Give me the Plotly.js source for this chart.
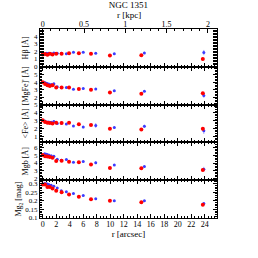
<!DOCTYPE html>
<html><head>
<meta charset="utf-8">
<script src="https://cdn.plot.ly/plotly-3.0.1.min.js"></script>
<style>html,body{margin:0;padding:0;background:#fff}</style>
</head><body>
<div id="chart" style="width:258px;height:258px"></div>
<script>
// radii in arcsec
const rRed  = [0, 0.35, 0.7, 1.05, 1.45, 2.0, 2.8, 3.9, 5.35, 7.15, 9.95, 14.6, 23.7];
const rBlue = [0.3, 0.6, 0.9, 1.25, 1.65, 2.15, 2.75, 3.5, 4.55, 6.0, 7.85, 10.6, 15.05, 23.85];
const KPC_PER_ARCSEC = 0.0818;

// H beta [A]
const hbRed     = [1.6, 1.65, 1.55, 1.7, 1.6, 1.7, 1.7, 1.75, 1.75, 1.7, 1.45, 1.5, 1.0];
const hbRedErr  = [0.05, 0.05, 0.05, 0.05, 0.05, 0.05, 0.05, 0.05, 0.06, 0.07, 0.08, 0.1, 0.15];
const hbBlue    = [1.65, 1.75, 1.75, 1.7, 1.8, 1.75, 1.75, 1.7, 1.9, 1.9, 1.75, 1.7, 1.8, 1.85];
const hbBlueErr = [0.1, 0.1, 0.1, 0.1, 0.1, 0.08, 0.08, 0.08, 0.08, 0.1, 0.1, 0.12, 0.15, 0.35];

// [MgFe]' [A]
const mgfeRed     = [4.0, 3.75, 3.6, 3.5, 3.6, 3.3, 3.3, 3.3, 3.1, 3.0, 2.6, 2.45, 2.5];
const mgfeRedErr  = [0.05, 0.05, 0.05, 0.05, 0.05, 0.05, 0.05, 0.05, 0.06, 0.07, 0.08, 0.1, 0.15];
const mgfeBlue    = [3.95, 3.85, 3.75, 3.7, 3.8, 3.4, 3.3, 3.3, 3.05, 3.15, 3.1, 2.85, 2.8, 2.2];
const mgfeBlueErr = [0.1, 0.1, 0.1, 0.1, 0.1, 0.08, 0.08, 0.08, 0.08, 0.1, 0.12, 0.12, 0.12, 0.3];

// <Fe> [A]
const feRed     = [3.05, 2.85, 2.75, 2.7, 2.65, 2.75, 2.7, 2.75, 2.55, 2.45, 2.0, 1.9, 2.0];
const feRedErr  = [0.05, 0.05, 0.05, 0.05, 0.05, 0.05, 0.05, 0.05, 0.06, 0.07, 0.08, 0.1, 0.2];
const feBlue    = [2.95, 2.85, 2.85, 2.8, 2.9, 2.65, 2.7, 2.6, 2.35, 2.2, 2.4, 2.15, 2.3, 1.75];
const feBlueErr = [0.12, 0.12, 0.12, 0.12, 0.12, 0.1, 0.1, 0.1, 0.1, 0.15, 0.3, 0.15, 0.2, 0.4];

// Mgb [A]
const mgbRed     = [5.05, 4.9, 4.85, 4.8, 4.7, 4.25, 4.3, 4.15, 4.1, 3.8, 3.35, 3.3, 3.1];
const mgbRedErr  = [0.05, 0.05, 0.05, 0.05, 0.05, 0.05, 0.05, 0.05, 0.06, 0.07, 0.08, 0.1, 0.15];
const mgbBlue    = [5.2, 5.15, 5.05, 4.95, 4.9, 4.5, 4.35, 4.45, 4.1, 4.2, 4.05, 3.75, 3.55, 3.2];
const mgbBlueErr = [0.1, 0.1, 0.1, 0.1, 0.1, 0.08, 0.08, 0.08, 0.08, 0.1, 0.2, 0.12, 0.12, 0.3];

// Mg2 [mag]
const mg2Red     = [0.295, 0.295, 0.28, 0.28, 0.272, 0.258, 0.25, 0.237, 0.223, 0.209, 0.2, 0.191, 0.177];
const mg2RedErr  = [0.002, 0.002, 0.002, 0.002, 0.002, 0.002, 0.002, 0.002, 0.002, 0.003, 0.003, 0.003, 0.004];
const mg2Blue    = [0.301, 0.3, 0.295, 0.291, 0.285, 0.275, 0.259, 0.253, 0.243, 0.231, 0.212, 0.201, 0.2, 0.184];
const mg2BlueErr = [0.003, 0.003, 0.003, 0.003, 0.003, 0.003, 0.003, 0.003, 0.003, 0.003, 0.004, 0.004, 0.004, 0.008];

const yTitles = ['Hβ [Å]', "[MgFe]' [Å]", '<Fe> [Å]', 'Mgb [Å]', 'Mg<sub>2</sub> [mag]'];
const xTicksArcsec = [0, 2, 4, 6, 8, 10, 12, 14, 16, 18, 20, 22, 24];
const xTicksKpc = [0, 0.5, 1, 1.5, 2];
const kpcTickText = ['0', '0.5', '1', '1.5', '2'];

const panels = [
  {red: hbRed, redErr: hbRedErr, blue: hbBlue, blueErr: hbBlueErr, range: [-0.05, 5.0], tickvals: [0,1,2,3,4], minor: 0.2},
  {red: mgfeRed, redErr: mgfeRedErr, blue: mgfeBlue, blueErr: mgfeBlueErr, range: [1.0, 6.05], tickvals: [2,3,4,5], minor: 0.2},
  {red: feRed, redErr: feRedErr, blue: feBlue, blueErr: feBlueErr, range: [0.3, 5.0], tickvals: [1,2,3,4,5], minor: 0.2},
  {red: mgbRed, redErr: mgbRedErr, blue: mgbBlue, blueErr: mgbBlueErr, range: [1.75, 6.7], tickvals: [2,3,4,5,6], minor: 0.2},
  {red: mg2Red, redErr: mg2RedErr, blue: mg2Blue, blueErr: mg2BlueErr, range: [0.1, 0.32], tickvals: [0.1,0.15,0.2,0.25,0.3], minor: 0.01}
];

const FONT = 'Liberation Serif, DejaVu Serif, serif';
const RED = '#ff0000', BLUE = '#3c3cff', BLUE_ERR = '#9c9cff';
const xRange = [-0.4, 25.8];

const traces = [];
const layout = {
  width: 258, height: 258,
  margin: {l: 40, r: 41, t: 29, b: 40, pad: 0},
  paper_bgcolor: '#fff', plot_bgcolor: '#fff',
  showlegend: false,
  font: {family: FONT, size: 8, color: '#000'},
  title: {text: 'NGC 1351', font: {family: FONT, size: 9, color: '#000'}, x: 0.5, xref: 'paper', xanchor: 'center', y: 0.98, yref: 'container', yanchor: 'middle', pad: {t: 0, b: 0}},
  annotations: [
    {text: 'r [kpc]', xref: 'paper', yref: 'paper', x: 0.5, y: 1 + 14 / 189, xanchor: 'center', yanchor: 'middle', showarrow: false, font: {family: FONT, size: 9, color: '#000'}}
  ]
};

panels.forEach((p, i) => {
  const n = i + 1;
  const xa = 'x' + (n === 1 ? '' : n), ya = 'y' + (n === 1 ? '' : n);
  traces.push({
    type: 'scatter', mode: 'markers', x: rBlue, y: p.blue, xaxis: xa, yaxis: ya,
    marker: {color: BLUE, size: 3},
    error_y: {type: 'data', array: p.blueErr, visible: true, color: BLUE_ERR, thickness: 1, width: 0},
    cliponaxis: true, hoverinfo: 'skip'
  });
  traces.push({
    type: 'scatter', mode: 'markers', x: rRed, y: p.red, xaxis: xa, yaxis: ya,
    marker: {color: RED, size: 4},
    error_y: {type: 'data', array: p.redErr, visible: true, color: RED, thickness: 1, width: 0},
    cliponaxis: true, hoverinfo: 'skip'
  });
  const top = 1 - i / 5, bot = 1 - (i + 1) / 5;
  layout['xaxis' + (n === 1 ? '' : n)] = {
    anchor: ya, domain: [0, 1], range: xRange,
    tickmode: 'array', tickvals: xTicksArcsec,
    ticks: 'inside', ticklen: 4, tickwidth: 1, tickcolor: '#000',
    minor: {ticks: 'inside', dtick: 0.5, tick0: 0, ticklen: 2, tickcolor: '#000', tickwidth: 1},
    showline: true, linecolor: '#000', linewidth: 1,
    mirror: n === 1 ? true : 'allticks',
    showgrid: false, zeroline: false,
    showticklabels: n === 5,
    ticklabelstandoff: -2,
    tickfont: {family: FONT, size: 8, color: '#000'},
    title: n === 5 ? {text: 'r [arcsec]', font: {family: FONT, size: 9, color: '#000'}, standoff: 0} : {text: ''}
  };
  if (n > 1) layout['xaxis' + n].matches = 'x';
  layout['yaxis' + (n === 1 ? '' : n)] = {
    anchor: xa, domain: [bot, top], range: p.range,
    tickmode: 'array', tickvals: p.tickvals,
    ticks: 'inside', ticklen: 4, tickwidth: 1, tickcolor: '#000',
    minor: {ticks: 'inside', dtick: p.minor, ticklen: 2, tickcolor: '#000', tickwidth: 1},
    showline: true, linecolor: '#000', linewidth: 1, mirror: 'allticks',
    showgrid: false, zeroline: false,
    tickfont: {family: FONT, size: 7, color: '#000'},
    title: {text: yTitles[i], font: {family: FONT, size: 8, color: '#000'}, standoff: n === 5 ? 2 : 4}
  };
});

// top kpc axis
traces.push({type: 'scatter', mode: 'markers', x: [], y: [], xaxis: 'x6', yaxis: 'y', hoverinfo: 'skip', showlegend: false});
layout.xaxis6 = {
  overlaying: 'x', anchor: 'y', side: 'top',
  range: [xRange[0] * KPC_PER_ARCSEC, xRange[1] * KPC_PER_ARCSEC],
  tickmode: 'array', tickvals: xTicksKpc, ticktext: kpcTickText,
  ticks: 'inside', ticklen: 4, tickwidth: 1, tickcolor: '#000',
  minor: {ticks: 'inside', dtick: 0.1, tick0: 0, ticklen: 2, tickcolor: '#000', tickwidth: 1},
  showline: true, linecolor: '#000', linewidth: 1,
  showgrid: false, zeroline: false,
  ticklabelstandoff: -2,
  tickfont: {family: FONT, size: 8, color: '#000'}
};

Plotly.newPlot('chart', traces, layout, {staticPlot: true, displayModeBar: false});
</script>
</body></html>
